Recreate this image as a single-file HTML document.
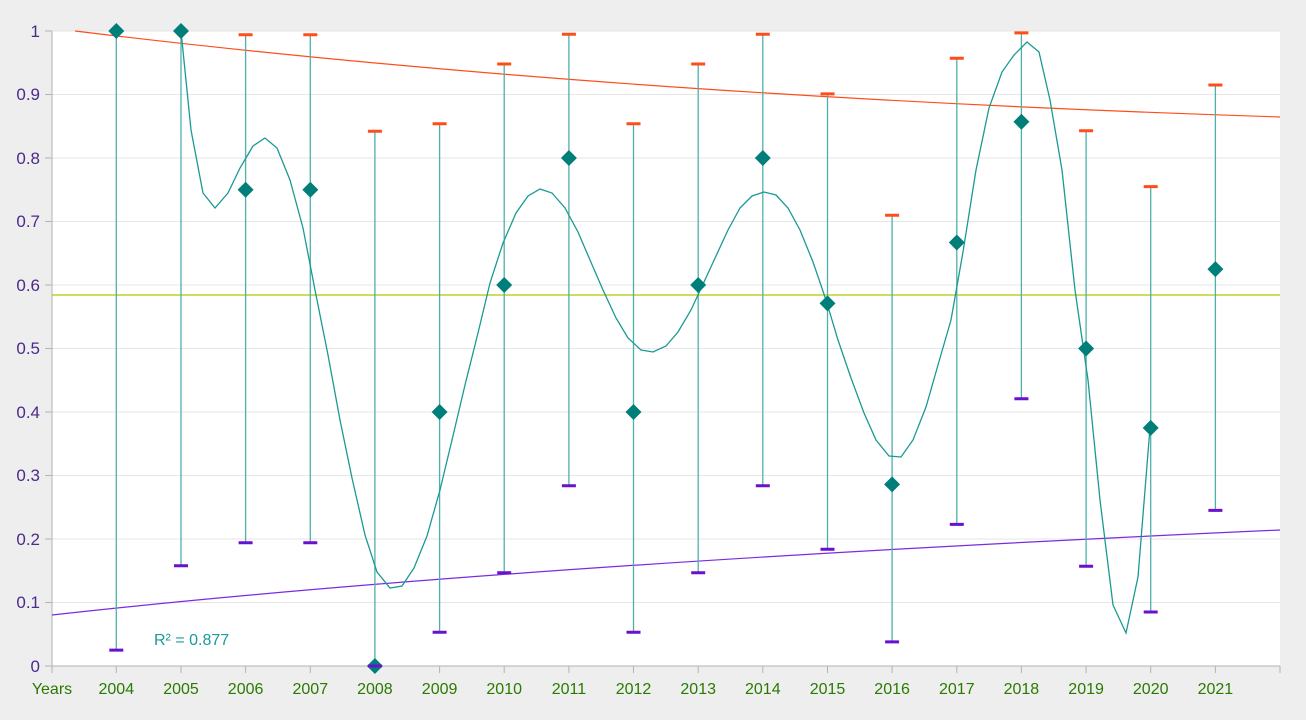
<!DOCTYPE html>
<html><head><meta charset="utf-8"><style>
html,body{margin:0;padding:0;background:#eeeeee;}
svg{display:block;font-family:"Liberation Sans",sans-serif;}
</style></head><body>
<svg width="1306" height="720" viewBox="0 0 1306 720" xmlns="http://www.w3.org/2000/svg">
<rect x="0" y="0" width="1306" height="720" fill="#eeeeee"/>
<rect x="52" y="31" width="1228" height="635" fill="#ffffff"/>
<g stroke="#e6e6e6" stroke-width="1">
<line x1="52" x2="1280" y1="94.5" y2="94.5"/><line x1="52" x2="1280" y1="158" y2="158"/>
<line x1="52" x2="1280" y1="221.5" y2="221.5"/><line x1="52" x2="1280" y1="285" y2="285"/>
<line x1="52" x2="1280" y1="348.5" y2="348.5"/><line x1="52" x2="1280" y1="412" y2="412"/>
<line x1="52" x2="1280" y1="475.5" y2="475.5"/><line x1="52" x2="1280" y1="539" y2="539"/>
<line x1="52" x2="1280" y1="602.5" y2="602.5"/><line x1="52" x2="1280" y1="31" y2="31"/>
</g>
<g stroke="#b3b3b3" stroke-width="1">
<line x1="52" x2="52" y1="31" y2="666"/><line x1="52" x2="1280" y1="666" y2="666"/>
<line x1="45" x2="52" y1="31" y2="31"/><line x1="45" x2="52" y1="94.5" y2="94.5"/><line x1="45" x2="52" y1="158" y2="158"/><line x1="45" x2="52" y1="221.5" y2="221.5"/><line x1="45" x2="52" y1="285" y2="285"/><line x1="45" x2="52" y1="348.5" y2="348.5"/><line x1="45" x2="52" y1="412" y2="412"/><line x1="45" x2="52" y1="475.5" y2="475.5"/><line x1="45" x2="52" y1="539" y2="539"/><line x1="45" x2="52" y1="602.5" y2="602.5"/><line x1="45" x2="52" y1="666" y2="666"/>
<path d="M52 666v7M116.3 666v7M181 666v7M245.6 666v7M310.3 666v7M374.9 666v7M439.6 666v7M504.2 666v7M568.9 666v7M633.5 666v7M698.2 666v7M762.8 666v7M827.5 666v7M892.1 666v7M956.8 666v7M1021.4 666v7M1086.1 666v7M1150.7 666v7M1215.4 666v7M1280 666v7"/>
</g>
<g fill="#4b2a8c" font-size="17" text-anchor="end">
<text x="40" y="37">1</text><text x="40" y="100">0.9</text><text x="40" y="164">0.8</text><text x="40" y="227">0.7</text><text x="40" y="291">0.6</text><text x="40" y="354">0.5</text><text x="40" y="418">0.4</text><text x="40" y="481">0.3</text><text x="40" y="545">0.2</text><text x="40" y="608">0.1</text><text x="40" y="672">0</text>
</g>
<g fill="#2a7a00" font-size="16" text-anchor="middle">
<text x="52" y="694">Years</text><text x="116.3" y="694">2004</text><text x="181" y="694">2005</text><text x="245.6" y="694">2006</text><text x="310.3" y="694">2007</text><text x="374.9" y="694">2008</text><text x="439.6" y="694">2009</text><text x="504.2" y="694">2010</text><text x="568.9" y="694">2011</text><text x="633.5" y="694">2012</text><text x="698.2" y="694">2013</text><text x="762.8" y="694">2014</text><text x="827.5" y="694">2015</text><text x="892.1" y="694">2016</text><text x="956.8" y="694">2017</text><text x="1021.4" y="694">2018</text><text x="1086.1" y="694">2019</text><text x="1150.7" y="694">2020</text><text x="1215.4" y="694">2021</text>
</g>
<line x1="52" x2="1280" y1="295" y2="295" stroke="#b5c800" stroke-width="1.2"/>
<path d="M75 31 Q600 95 1280 117" fill="none" stroke="#ff4d1a" stroke-width="1.2"/>
<path d="M52 615 Q500 565 1280 530" fill="none" stroke="#7a2be0" stroke-width="1.2"/>
<g stroke="#4fb0aa" stroke-width="1.3">
<path d="M116.3 31V650.1M181 31V565.7M245.6 34.8V542.8M310.3 34.8V542.8M374.9 131.3V666M439.6 123.7V632.3M504.2 64V572.7M568.9 34.2V485.7M633.5 123.7V632.3M698.2 64V572.7M762.8 34.2V485.7M827.5 93.9V549.2M892.1 215.2V641.9M956.8 58.3V524.4M1021.4 32.9V398.7M1086.1 130.7V566.3M1150.7 186.6V612M1215.4 85V510.4"/>
</g>
<g stroke="#ff4d1a" stroke-width="3">
<path d="M238.6 34.8h14M303.3 34.8h14M367.9 131.3h14M432.6 123.7h14M497.2 64h14M561.9 34.2h14M626.5 123.7h14M691.2 64h14M755.8 34.2h14M820.5 93.9h14M885.1 215.2h14M949.8 58.3h14M1014.4 32.9h14M1079.1 130.7h14M1143.7 186.6h14M1208.4 85h14"/>
</g>
<g stroke="#6a10d0" stroke-width="3">
<path d="M109.3 650.1h14M174 565.7h14M238.6 542.8h14M303.3 542.8h14M432.6 632.3h14M497.2 572.7h14M561.9 485.7h14M626.5 632.3h14M691.2 572.7h14M755.8 485.7h14M820.5 549.2h14M885.1 641.9h14M949.8 524.4h14M1014.4 398.7h14M1079.1 566.3h14M1143.7 612h14M1208.4 510.4h14"/>
</g>
<polyline fill="none" stroke="#1a9a92" stroke-width="1.3" points="181,31 191,130 203,193 215,208 228,193 240,168 253,146 265,138 277,148 290,180 303,228 315,290 328,355 340,420 352,478 365,535 377,572 390,588 402,586 414,568 427,536 440,490 452,440 465,385 478,333 490,283 503,243 516,213 528,196 540,189 552,193 565,208 578,232 590,260 603,290 616,318 628,338 641,350 653,352 666,346 678,332 691,310 704,282 716,256 728,230 740,208 752,196 764,192 776,195 788,208 800,230 813,262 826,300 838,340 851,378 864,413 876,440 889,456 901,457 913,440 926,407 938,365 951,320 963,252 976,170 989,108 1002,72 1014,55 1027,42 1039,52 1050,100 1062,170 1075,290 1088,380 1100,500 1113,605 1126,633 1138,577 1150,428"/>
<g fill="#007f7a">
<path d="M116.3 23l8 8-8 8-8-8z"/><path d="M181 23l8 8-8 8-8-8z"/><path d="M245.6 181.8l8 8-8 8-8-8z"/><path d="M310.3 181.8l8 8-8 8-8-8z"/><path d="M374.9 658l8 8-8 8-8-8z"/><path d="M439.6 404l8 8-8 8-8-8z"/><path d="M504.2 277l8 8-8 8-8-8z"/><path d="M568.9 150l8 8-8 8-8-8z"/><path d="M633.5 404l8 8-8 8-8-8z"/><path d="M698.2 277l8 8-8 8-8-8z"/><path d="M762.8 150l8 8-8 8-8-8z"/><path d="M827.5 295.4l8 8-8 8-8-8z"/><path d="M892.1 476.4l8 8-8 8-8-8z"/><path d="M956.8 234.5l8 8-8 8-8-8z"/><path d="M1021.4 113.8l8 8-8 8-8-8z"/><path d="M1086.1 340.5l8 8-8 8-8-8z"/><path d="M1150.7 419.9l8 8-8 8-8-8z"/><path d="M1215.4 261.1l8 8-8 8-8-8z"/>
</g>
<line x1="367.9" x2="381.9" y1="666" y2="666" stroke="#6a10d0" stroke-width="3"/>
<text x="154" y="645" fill="#1a9a9a" font-size="16">R² = 0.877</text>
</svg>
</body></html>
